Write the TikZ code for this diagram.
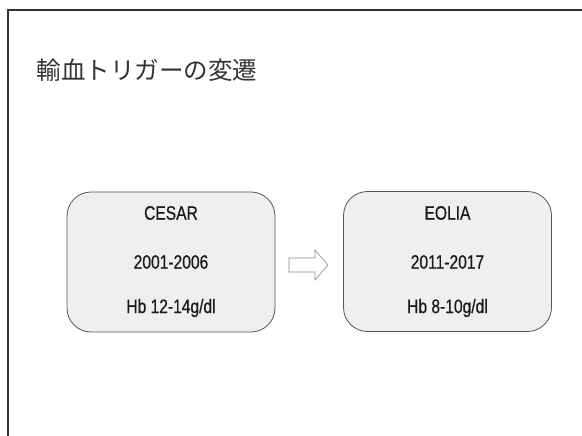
\documentclass[tikz,border=0pt]{standalone}
\usepackage{fontspec}
\setmainfont{Liberation Sans}[FakeStretch=0.8, FakeBold=0.6]
\newfontfamily\cjk{Noto Sans CJK JP}
\definecolor{boxfill}{HTML}{EFEFEF}
\definecolor{boxline}{HTML}{555555}
\definecolor{txt}{HTML}{1A1A1A}
\tikzset{
  trialbox/.style={draw=boxline, line width=0.8pt, fill=boxfill, rounded corners=24pt, minimum width=208pt, minimum height=140pt, inner sep=0pt},
  lbl/.style={font=\fontsize{19.5}{22}\selectfont, text=txt, anchor=center}
}
\begin{document}
\begin{tikzpicture}[x=1pt,y=-1pt]
\useasboundingbox (0,0) rectangle (582,436);
\fill[white] (0,0) rectangle (582,436);
\draw[line width=1.8pt, draw=black!80] (8,436) -- (8,10) -- (582,10);
\node[anchor=west, font=\cjk\fontsize{24.5}{28}\selectfont, text=black!80] (title) at (33,70) {輸血トリガーの変遷};
\node[trialbox] (cesar) at (171,262) {};
\node[trialbox] (eolia) at (447.5,261.5) {};
\node[lbl] (c1) at (171,213) {CESAR};
\node[lbl] (c2) at (171,262) {2001-2006};
\node[lbl] (c3) at (171,308) {Hb 12-14g/dl};
\node[lbl] (e1) at (447.5,213) {EOLIA};
\node[lbl] (e2) at (447.5,262) {2011-2017};
\node[lbl] (e3) at (447.5,308) {Hb 8-10g/dl};
\draw[draw=boxline!70, line width=0.6pt, fill=white] (289,258) -- (315,258) -- (315,250) -- (328,265) -- (315,280) -- (315,272) -- (289,272) -- cycle;
\end{tikzpicture}
\end{document}
